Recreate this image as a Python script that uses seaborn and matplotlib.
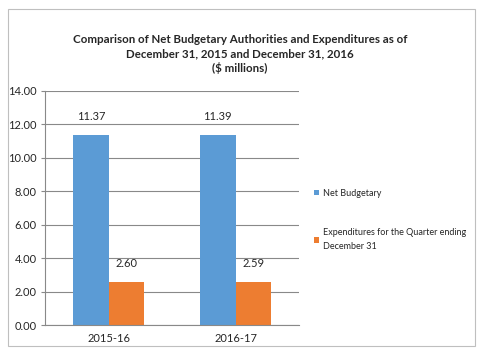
import matplotlib
matplotlib.use("Agg")
import matplotlib.pyplot as plt
import pandas as pd
import seaborn as sns
from matplotlib.patches import Rectangle

years = ["2015-16", "2016-17"]
net_budgetary = [11.37, 11.39]
expenditures = [2.60, 2.59]
series_names = ["Net Budgetary", "Expenditures for the Quarter ending\nDecember 31"]
colors = ["#5B9BD5", "#ED7D31"]

df = pd.DataFrame({
    "Year": years * 2,
    "Value": net_budgetary + expenditures,
    "Series": [series_names[0]] * 2 + [series_names[1]] * 2,
})

sns.set_style("white")
plt.rcParams["font.family"] = ["Lato", "DejaVu Sans"]

fig = plt.figure(figsize=(4.8, 3.51), dpi=100)
ax = fig.add_axes([0.094, 0.074, 0.529, 0.667])

sns.barplot(data=df, x="Year", y="Value", hue="Series", palette=colors,
            width=0.56, saturation=1, linewidth=0, edgecolor="none",
            ax=ax, legend=True)

ax.set_ylim(0, 14)
ax.set_yticks(range(0, 15, 2))
ax.set_yticklabels([f"{v:.2f}" for v in range(0, 15, 2)], fontsize=8)
ax.tick_params(axis="x", labelsize=8, length=0, pad=6)
ax.tick_params(axis="y", length=3, color="#898989", pad=3, left=True)
ax.set_xlabel("")
ax.set_ylabel("")
ax.grid(axis="y", color="#898989", linewidth=0.8)
ax.set_axisbelow(True)
for side in ["top", "right"]:
    ax.spines[side].set_visible(False)
for side in ["left", "bottom"]:
    ax.spines[side].set_color("#898989")
    ax.spines[side].set_linewidth(0.8)

for cont in ax.containers:
    ax.bar_label(cont, fmt="%.2f", fontsize=8, padding=9)

leg = ax.legend(loc="center left", bbox_to_anchor=(1.025, 0.45), frameon=False,
                fontsize=6.5, handlelength=0.6, handleheight=0.6,
                handletextpad=0.5, labelspacing=3.4)
for t in leg.get_texts():
    t.set_linespacing(1.6)

fig.text(0.5, 0.846, "Comparison of Net Budgetary Authorities and Expenditures as of\n"
         "December 31, 2015 and December 31, 2016\n($ millions)",
         ha="center", va="center", fontsize=8.3, fontweight="bold", linespacing=1.35)

fig.patches.append(Rectangle((0.017, 0.014), 0.973, 0.96, transform=fig.transFigure,
                             fill=False, edgecolor="#BFBFBF", linewidth=0.8))

fig.savefig("out.png", dpi=100)
